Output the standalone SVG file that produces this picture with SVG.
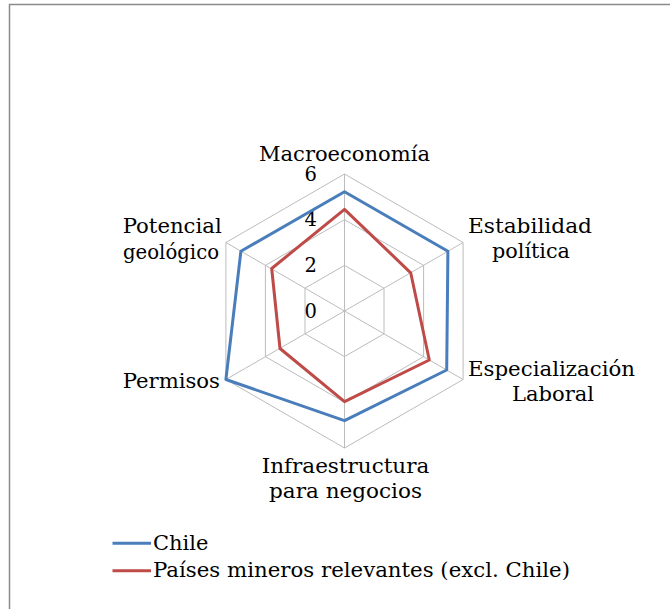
<svg xmlns="http://www.w3.org/2000/svg" width="670" height="609" viewBox="0 0 670 609">
<style>
text{font-family:"DejaVu Serif","Liberation Serif",serif;font-size:19.5px;fill:#000}
.grid{fill:none;stroke:#bcbcbc;stroke-width:1}
.s{fill:none;stroke-width:3;stroke-linejoin:round}
.m{text-anchor:middle}
.e{text-anchor:end}
</style>
<rect x="0" y="0" width="670" height="609" fill="#fff"/>
<path d="M9.5 620 V4.5 H680" fill="none" stroke="#8a8a8a" stroke-width="1.5"/>
<g id="grid">
<polygon class="grid" points="344.5,174 463.1,242.5 463.1,379.5 344.5,448 225.9,379.5 225.9,242.5"/>
<polygon class="grid" points="344.5,219.7 423.6,265.35 423.6,356.65 344.5,402.3 265.4,356.65 265.4,265.35"/>
<polygon class="grid" points="344.5,265.4 384,288.2 384,333.8 344.5,356.6 305,333.8 305,288.2"/>
<path class="grid" d="M344.5 311 V174 M344.5 311 L463.1 242.5 M344.5 311 L463.1 379.5 M344.5 311 V448 M344.5 311 L225.9 379.5 M344.5 311 L225.9 242.5"/>
</g>
<g id="axis-labels">
<text class="e" x="317" y="181">6</text>
<text class="e" x="317" y="226">4</text>
<text class="e" x="317" y="272">2</text>
<text class="e" x="317" y="318">0</text>
</g>
<g id="series">
<polygon id="chile" class="s" stroke="#4a7ebb" points="344.5,191.7 447.9,251.3 446.7,370 344.5,420.7 225.9,379.5 240.9,251.2"/>
<polygon id="otros" class="s" stroke="#be4b48" points="344.5,209.3 410.7,272.8 429.3,360 344.5,401.7 280,348.5 271.7,268.5"/>
</g>
<g id="n-macro"><text class="m" x="344.5" y="161" textLength="171" lengthAdjust="spacingAndGlyphs">Macroeconomía</text></g>
<g id="n-estab"><text class="m" x="530" y="233" textLength="124" lengthAdjust="spacingAndGlyphs">Estabilidad</text><text class="m" x="531" y="258" textLength="78" lengthAdjust="spacingAndGlyphs">política</text></g>
<g id="n-espec"><text class="m" x="551.5" y="376" textLength="167" lengthAdjust="spacingAndGlyphs">Especialización</text><text class="m" x="553" y="401" textLength="82" lengthAdjust="spacingAndGlyphs">Laboral</text></g>
<g id="n-infra"><text class="m" x="345.5" y="473" textLength="167.5" lengthAdjust="spacingAndGlyphs">Infraestructura</text><text class="m" x="345.5" y="498" textLength="153" lengthAdjust="spacingAndGlyphs">para negocios</text></g>
<g id="n-perm"><text x="122.7" y="388" textLength="97.3" lengthAdjust="spacingAndGlyphs">Permisos</text></g>
<g id="n-pot"><text class="m" x="172.2" y="233" textLength="99" lengthAdjust="spacingAndGlyphs">Potencial</text><text class="m" x="171" y="259" textLength="96" lengthAdjust="spacingAndGlyphs">geológico</text></g>
<g id="legend">
<line x1="112.5" y1="543.3" x2="151" y2="543.3" stroke="#4a7ebb" stroke-width="3"/>
<text x="153" y="549.5" textLength="55.3" lengthAdjust="spacingAndGlyphs">Chile</text>
<line x1="112.5" y1="570.7" x2="151" y2="570.7" stroke="#be4b48" stroke-width="3"/>
<text x="153" y="577" textLength="417" lengthAdjust="spacingAndGlyphs">Países mineros relevantes (excl. Chile)</text>
</g>
</svg>
